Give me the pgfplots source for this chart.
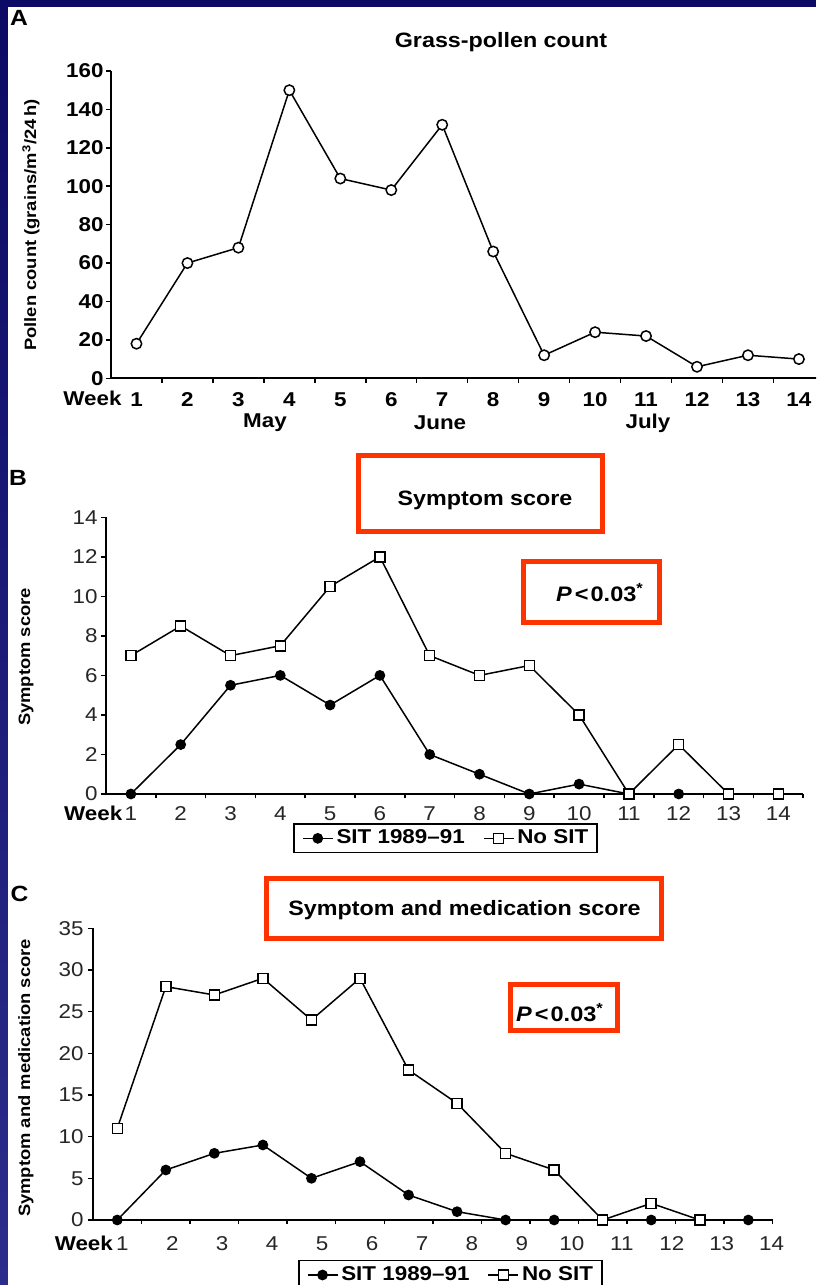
\documentclass[border=0pt]{standalone}
\usepackage{fontspec}
\setmainfont{Liberation Sans}[FakeStretch=1.12]
\usepackage{pgfplots}
\pgfplotsset{compat=1.18}
\definecolor{navy}{RGB}{12,10,100}
\definecolor{navylo}{RGB}{44,44,140}
\definecolor{boxred}{RGB}{255,51,0}
\newcommand\tkf{\fontsize{10}{12}\selectfont}
\newcommand\ttlf{\fontsize{10.4}{12}\selectfont\bfseries}
\newcommand\ylf{\fontsize{8.2}{10}\selectfont\bfseries}
\newcommand\letf{\fontsize{11}{13}\selectfont\bfseries}

\pgfplotsset{
  panel/.style={
    scale only axis, anchor=south west, clip=false,
    axis x line*=bottom, axis y line*=left,
    axis line style={line width=1pt, black, -},
    xmin=0.5, xmax=14.5, ymin=0,
    tick align=outside,
    major tick length=2.5pt, minor tick length=2.25pt,
    tick style={line width=0.75pt, black},
    xtick={1,...,14},
    minor xtick={1.5,2.5,...,14.5},
    major x tick style={draw=none},
    /pgf/number format/assume math mode=true,
    tick label style={font=\tkf, text=black!85},
    xticklabel style={anchor=base, inner sep=0pt},
    yticklabel style={anchor=east, inner sep=0pt},
    legend columns=-1,
    legend style={draw=black, line width=0.75pt, font=\tkf\bfseries,
      anchor=north west, inner xsep=4pt, inner ysep=2.4pt,
      nodes={inner sep=0.5pt},
      /tikz/every odd column/.append style={column sep=1pt},
      /tikz/every even column/.append style={column sep=8.5pt}},
    legend image code/.code={%
      \draw[mark repeat=2,mark phase=2,#1] plot coordinates {(0pt,0pt) (7.5pt,0pt) (15pt,0pt)};},
  },
  sit/.style={black, line width=0.75pt, mark=*, mark size=2.3pt},
  nosit/.style={black, line width=0.75pt, mark=square*, mark size=2.5pt,
    mark options={fill=white, line width=0.75pt}},
}

\begin{document}
\begin{tikzpicture}[x=0.5pt,y=0.5pt]
\fill[navy] (0,0) rectangle (816,1285);
\shade[top color=navy, bottom color=navylo] (0,0) rectangle (8,1285);
\fill[white] (8,0) rectangle (816,1278);
\begin{scope}
\clip (8,0) rectangle (816,1278);

% ---------- A: grass pollen ----------
\begin{axis}[panel, at={(55.5pt,453.35pt)}, width=356.7pt, height=153.65pt,
  ymax=160, ytick={0,20,...,160},
  tick label style={font=\tkf\bfseries, text=black},
  yticklabel style={xshift=-1pt},
  xticklabel style={yshift=-11.5pt}]
  \addplot[black, line width=0.75pt, mark=*, mark size=2.6pt,
    mark options={fill=white, line width=0.75pt}] coordinates {
    (1,18)(2,60)(3,68)(4,150)(5,104)(6,98)(7,132)
    (8,66)(9,12)(10,24)(11,22)(12,6)(13,12)(14,10)
  };
\end{axis}
\node[font=\letf] at (19,1267) {A};
\node[font=\ttlf] at (501,1243) {Grass-pollen count};
\node[font=\ylf, rotate=90] at (31,1060) {Pollen count (grains/m\textsuperscript{3}/24\,h)};
\node[font=\tkf\bfseries, anchor=base east, inner sep=0pt] at (122,879) {Week};
\node[font=\tkf\bfseries] at (265,862) {May};
\node[font=\tkf\bfseries] at (440,862) {June};
\node[font=\tkf\bfseries] at (648,862) {July};

% ---------- B: symptom score ----------
\begin{axis}[panel, at={(53pt,245.5pt)}, width=348.6pt, height=138.35pt,
  ymax=14, ytick={0,2,...,14},
  yticklabel style={xshift=-1.5pt},
  xticklabel style={yshift=-10.7pt},
  legend style={at={(0.2686,-0.106)}}]
  \addplot[sit] coordinates {
    (1,0)(2,2.5)(3,5.5)(4,6)(5,4.5)(6,6)(7,2)
    (8,1)(9,0)(10,0.5)(11,0)(12,0)(13,0)(14,0)
  };
  \addlegendentry{SIT 1989--91}
  \addplot[nosit] coordinates {
    (1,7)(2,8.5)(3,7)(4,7.5)(5,10.5)(6,12)(7,7)
    (8,6)(9,6.5)(10,4)(11,0)(12,2.5)(13,0)(14,0)
  };
  \addlegendentry{No SIT}
\end{axis}
\node[font=\letf] at (18,807) {B};
\draw[boxred, line width=2.5pt] (358,829) rectangle (602,753.5);
\node[font=\ttlf] at (485,785) {Symptom score};
\draw[boxred, line width=2.5pt] (523,723) rectangle (659,662);
\node[font=\fontsize{10.5}{12}\selectfont\bfseries] at (600,692)
  {\textit{P}\kern1.5pt<\kern1pt0.03\textsuperscript{*}};
\node[font=\ylf, rotate=90] at (26,628) {Symptom score};
\node[font=\tkf\bfseries, anchor=base east, inner sep=0pt] at (122.7,464.7) {Week};

% ---------- C: symptom and medication score ----------
\begin{axis}[panel, at={(46.5pt,32.5pt)}, width=339.8pt, height=145.85pt,
  ymax=35, ytick={0,5,...,35},
  xtick={1.104,2.133,3.162,4.191,5.220,6.249,7.278,8.307,9.336,10.365,11.394,12.423,13.452,14.481},
  xticklabels={1,2,3,4,5,6,7,8,9,10,11,12,13,14},
  yticklabel style={xshift=-2pt},
  xticklabel style={yshift=-12.7pt},
  legend style={at={(0.3017,-0.137)}}]
  \addplot[sit] coordinates {
    (1,0)(2,6)(3,8)(4,9)(5,5)(6,7)(7,3)
    (8,1)(9,0)(10,0)(11,0)(12,0)(13,0)(14,0)
  };
  \addlegendentry{SIT 1989--91}
  \addplot[nosit] coordinates {
    (1,11)(2,28)(3,27)(4,29)(5,24)(6,29)(7,18)
    (8,14)(9,8)(10,6)(11,0)(12,2)(13,0)
  };
  \addlegendentry{No SIT}
\end{axis}
\node[font=\letf] at (19.5,391) {C};
\draw[boxred, line width=2.5pt] (266.5,406) rectangle (661.5,346);
\node[font=\ttlf] at (464.5,375) {Symptom and medication score};
\draw[boxred, line width=2.5pt] (510.5,300) rectangle (617,254);
\node[font=\fontsize{10.5}{12}\selectfont\bfseries] at (560,272)
  {\textit{P}\kern1.5pt<\kern1pt0.03\textsuperscript{*}};
\node[font=\ylf, rotate=90] at (26,207) {Symptom and medication score};
\node[font=\tkf\bfseries, anchor=base east, inner sep=0pt] at (113.3,34.7) {Week};
\end{scope}

\pgfresetboundingbox
\useasboundingbox (0,0) rectangle (816,1285);
\end{tikzpicture}
\end{document}
